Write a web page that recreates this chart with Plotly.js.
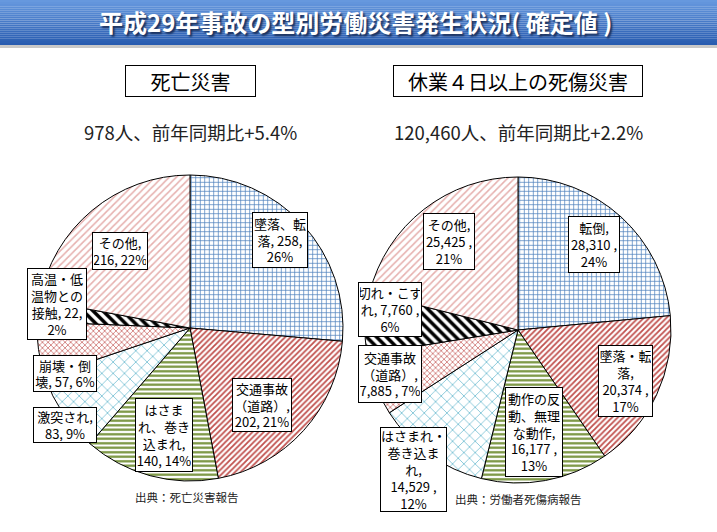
<!DOCTYPE html>
<html><head><meta charset="utf-8">
<script src="https://cdn.plot.ly/plotly-3.0.1.min.js"></script>
<style>html,body{margin:0;padding:0;background:#fff}#chart{width:717px;height:532px}</style>
</head><body><div id="chart"></div>
<script>
// ---- data ----
const leftCategories = ["墜落、転落","交通事故（道路）","はさまれ、巻き込まれ","激突され","崩壊・倒壊","高温・低温物との接触","その他"];
const leftValues = [258, 202, 140, 83, 57, 22, 216];
const leftLabelText = ["墜落、転<br>落, 258,<br>26%","交通事故<br>（道路）,<br>202, 21%","はさま<br>れ、巻き<br>込まれ,<br>140, 14%","激突され,<br>83, 9%","崩壊・倒<br>壊, 57, 6%","高温・低<br>温物との<br>接触, 22,<br>2%","その他,<br>216, 22%"];
const rightCategories = ["転倒","墜落・転落","動作の反動、無理な動作","はさまれ・巻き込まれ","交通事故（道路）","切れ・こすれ","その他"];
const rightValues = [28310, 20374, 16177, 14529, 7885, 7760, 25425];
const rightLabelText = ["転倒,<br>28,310 ,<br>24%","墜落・転<br>落,<br>20,374 ,<br>17%","動作の反<br>動、無理<br>な動作,<br>16,177 ,<br>13%","はさまれ・<br>巻き込ま<br>れ,<br>14,529 ,<br>12%","交通事故<br>（道路）,<br>7,885 , 7%","切れ・こす<br>れ, 7,760 ,<br>6%","その他,<br>25,425 ,<br>21%"];
const mainTitle = "平成29年事故の型別労働災害発生状況( 確定値 )";
const leftTitle = "死亡災害", rightTitle = "休業４日以上の死傷災害";
const leftSub = "978人、前年同期比+5.4%", rightSub = "120,460人、前年同期比+2.2%";
const leftSource = "出典：死亡災害報告", rightSource = "出典：労働者死傷病報告";

// ---- styling ----
const W = 717, H = 532;
const px = x => x / W, py = y => 1 - y / H;
const FONT = "Noto Sans CJK JP, sans-serif";
const patterns = [
  {shape:"+", fgcolor:"#4f81bd", bgcolor:"#ffffff", size:4.5, solidity:0.3},
  {shape:"/", fgcolor:"#c0504d", bgcolor:"#ffffff", size:4, solidity:0.45},
  {shape:"-", fgcolor:"#77933c", bgcolor:"#ffffff", size:4.5, solidity:0.5},
  {shape:"x", fgcolor:"#4bacc6", bgcolor:"#ffffff", size:8, solidity:0.15},
  {shape:"x", fgcolor:"#c0504d", bgcolor:"#ffffff", size:4, solidity:0.3},
  {shape:"\\", fgcolor:"#000000", bgcolor:"#ffffff", size:7, solidity:0.5},
  {shape:"/", fgcolor:"#e6b0ae", bgcolor:"#ffffff", size:5, solidity:0.3}
];
function pieTrace(labels, values, cx, cy, r){
  return {
    type:"pie", labels, values, sort:false, direction:"clockwise", rotation:0,
    textinfo:"none", hoverinfo:"label+value+percent", showlegend:false,
    domain:{x:[px(cx-r), px(cx+r)], y:[py(cy+r), py(cy-r)]},
    marker:{
      colors: patterns.map(p=>p.bgcolor),
      line:{color:"#000", width:1},
      pattern:{
        shape: patterns.map(p=>p.shape), fgcolor: patterns.map(p=>p.fgcolor),
        bgcolor: patterns.map(p=>p.bgcolor), size: patterns.map(p=>p.size),
        solidity: patterns.map(p=>p.solidity), fillmode:"replace"
      }
    }
  };
}
const leftBoxes = [[280,240,56,56],[262,405,60,54],[164,435,58,74],[65,425,64,36],[65,373.5,64,37],[57,304,60,72],[120,251,56,38]];
const rightBoxes = [[594,244.5,52,57],[625.5,381,55,72],[534,432,58,90],[413.5,469.5,67,85],[390,374,64,58],[390,309.5,64,55],[449,241.5,52,57]];

function boxAnn(text, b, size){
  return {text, x:px(b[0]), y:py(b[1]), xref:"paper", yref:"paper", xanchor:"center", yanchor:"middle",
    showarrow:false, width:b[2]-4, height:b[3]-4, bgcolor:"#fff", bordercolor:"#000", borderwidth:1, borderpad:1,
    align:"center", valign:"middle", font:{family:FONT, size:size||13, color:"#000"}};
}
function plainAnn(text, x, y, size, anchor, extra){
  return Object.assign({text, x:px(x), y:py(y), xref:"paper", yref:"paper", xanchor:anchor||"center", yanchor:"middle",
    showarrow:false, font:{family:FONT, size, color:"#222"}}, extra||{});
}
const annotations = [];
leftLabelText.forEach((t,i)=>annotations.push(boxAnn(t, leftBoxes[i])));
rightLabelText.forEach((t,i)=>annotations.push(boxAnn(t, rightBoxes[i])));
annotations.push(boxAnn(leftTitle, [190.5,81,131,32], 20));
annotations.push(boxAnn(rightTitle, [518,81,250,32], 20));
annotations.push(plainAnn(leftSub, 190, 132, 18.5));
annotations.push(plainAnn(rightSub, 518, 132, 18.5));
annotations.push(plainAnn(leftSource, 133, 497, 11.5, "left"));
annotations.push(plainAnn(rightSource, 453, 499, 11.5, "left"));
annotations.push(plainAnn(mainTitle, 355, 22, 24, "center",
  {font:{family:FONT, size:24, color:"#fff", weight:"bold", shadow:"2px 2px 2px #1a2f5a"}}));

// banner gradient strips
const shapes = [];
const gradTop = [102,152,222], gradBot = [40,92,176];
const N = 22, bannerH = 45;
for(let i=0;i<N;i++){
  const t = i/(N-1);
  const c = gradTop.map((v,k)=>Math.round(v+(gradBot[k]-v)*t));
  shapes.push({type:"rect", xref:"paper", yref:"paper", x0:0, x1:1,
    y0:py(bannerH*(i+1)/N), y1:py(bannerH*i/N), fillcolor:`rgb(${c.join(",")})`, line:{width:0}, layer:"below"});
}
shapes.push({type:"rect", xref:"paper", yref:"paper", x0:0, x1:1, y0:py(bannerH+3), y1:py(bannerH), fillcolor:"#c8c8c8", line:{width:0}, layer:"below"});

const layout = {
  width:W, height:H, margin:{l:0,r:0,t:0,b:0}, paper_bgcolor:"#fff",
  annotations, shapes, showlegend:false
};
Plotly.newPlot("chart", [pieTrace(leftCategories,leftValues,190,328,153), pieTrace(rightCategories,rightValues,518,330,153)], layout, {staticPlot:true});
</script></body></html>
